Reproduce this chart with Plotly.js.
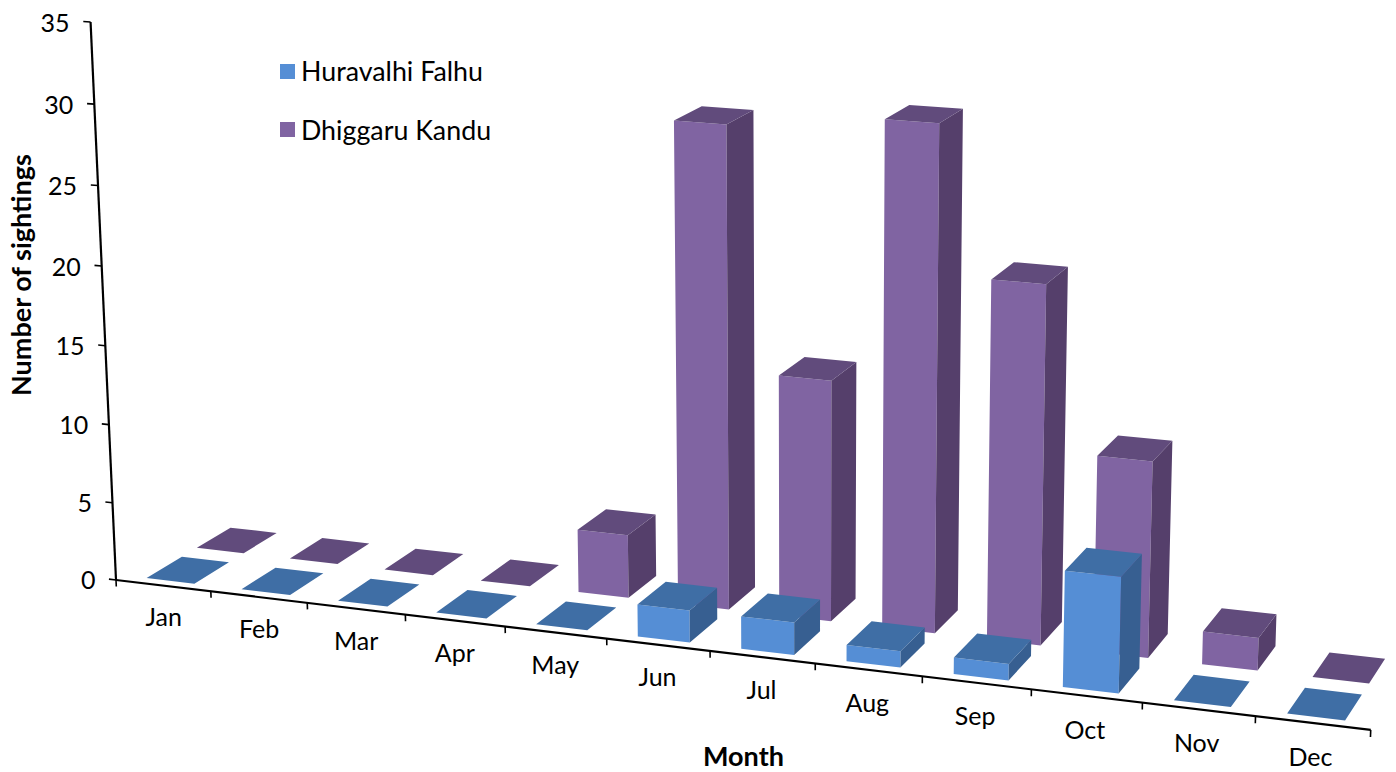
<!DOCTYPE html>
<html>
<head>
<meta charset="utf-8">
<script src="https://cdn.plot.ly/plotly-3.0.1.min.js"></script>
<style>html,body{margin:0;padding:0;background:#fff}#chart{width:1396px;height:772px}</style>
</head>
<body>
<div id="chart"></div>
<script>
// ---- data ----
const months = ['Jan','Feb','Mar','Apr','May','Jun','Jul','Aug','Sep','Oct','Nov','Dec'];
const huravalhiFalhu = [0,0,0,0,0,2,2,1,1,7,0,0];
const dhiggaruKandu  = [0,0,0,0,4,30,15,31,22,12,2,0];
const valueTicks = [0,5,10,15,20,25,30,35];

// ---- perspective camera: (month position, depth, value) -> plot coordinates ----
const origin = [116,580];
const vanishX = [-11077,-757], vanishD = [2260,-690], vanishV = [805,15700];
const cX = -0.0084, cD = 0.017, cV = -0.001017;
function project(X,D,V){
  const w = 1 + cX*X + cD*D + cV*V;
  return [0,1].map(k => (origin[k] + X*cX*vanishX[k] + D*cD*vanishD[k] + V*cV*vanishV[k]) / w);
}
function polygons(quads){
  const x=[],y=[];
  quads.forEach(q=>{ q.forEach(p=>{const r=project(p[0],p[1],p[2]);x.push(r[0]);y.push(r[1]);});
    const r=project(q[0][0],q[0][1],q[0][2]);x.push(r[0],null);y.push(r[1],null);});
  return {x,y};
}
function faceTrace(quads,color,name){
  const g=polygons(quads);
  return {type:'scatter',mode:'lines',x:g.x,y:g.y,fill:'toself',fillcolor:color,
          line:{width:0,color:color},hoverinfo:'name',name:name,showlegend:false,cliponaxis:false};
}
function barTraces(values,d0,d1,colors,name){
  const front=[],top=[],side=[];
  values.forEach((v,i)=>{
    const a=i+0.241,b=i+0.746;
    front.push([[a,d0,0],[b,d0,0],[b,d0,v],[a,d0,v]]);
    side.push([[b,d0,0],[b,d1,0],[b,d1,v],[b,d0,v]]);
    top.push([[a,d0,v],[b,d0,v],[b,d1,v],[a,d1,v]]);
  });
  return [faceTrace(front,colors[0],name),faceTrace(side,colors[1],name),faceTrace(top,colors[2],name)];
}
function lineTrace(segs,width){
  const x=[],y=[];
  segs.forEach(s=>{s.forEach(p=>{const r=project(p[0],p[1],p[2]);x.push(r[0]);y.push(r[1]);});x.push(null);y.push(null);});
  return {type:'scatter',mode:'lines',x,y,line:{color:'#000',width},hoverinfo:'skip',showlegend:false,cliponaxis:false};
}
const fontFamily = 'Lato, Carlito, sans-serif';
function textTrace(pts,labels,pos,size){
  const r=pts.map(p=>project(p[0],p[1],p[2]));
  return {type:'scatter',mode:'text',x:r.map(p=>p[0]),y:r.map(p=>p[1]),text:labels,textposition:pos,
          textfont:{family:fontFamily,size:size,color:'#000'},hoverinfo:'skip',showlegend:false,cliponaxis:false};
}

const fontSize = 25;
const traces = [
  ...barTraces(dhiggaruKandu,1.655,2.655,['#8064A2','#553F6B','#614B7C'],'Dhiggaru Kandu'),
  ...barTraces(huravalhiFalhu,0.22,1.22,['#558ED5','#375F91','#3F6EA5'],'Huravalhi Falhu'),
  lineTrace([[[0,0,0],[12,0,0]],[[0,0,0],[0,0,35]]],2.2),
  lineTrace([
    ...valueTicks.map(v=>[[0,0,v],[-0.075,0,v]]),
    ...months.concat(['']).map((m,i)=>[[i,0,0],[i,0,-0.42]])
  ],1.6),
  textTrace(valueTicks.map(v=>[-0.22,0,v-0.33]),valueTicks.map(String),'middle left',fontSize),
  textTrace(months.map((m,i)=>[i+0.49,0,-2.22]),months,'middle center',fontSize),
  {type:'scatter',mode:'markers',x:[287.5,287.5],y:[71.5,129.5],
   marker:{symbol:'square',size:15,color:['#558ED5','#8064A2']},hoverinfo:'skip',showlegend:false,cliponaxis:false},
  {type:'scatter',mode:'text',x:[301,301],y:[74,133],text:['Huravalhi Falhu','Dhiggaru Kandu'],
   textposition:'middle right',textfont:{family:fontFamily,size:26.8,color:'#000'},hoverinfo:'skip',showlegend:false,cliponaxis:false}
];
const layout = {
  width:1396,height:772,margin:{l:0,r:0,t:0,b:0},paper_bgcolor:'#fff',plot_bgcolor:'#fff',showlegend:false,
  xaxis:{range:[0,1396],visible:false,fixedrange:true},
  yaxis:{range:[772,0],visible:false,fixedrange:true},
  annotations:[
    {text:'<b>Number of sightings</b>',xref:'x',yref:'y',x:20,y:275,showarrow:false,textangle:-90,
     font:{family:fontFamily,size:27,color:'#000'}},
    {text:'<b>Month</b>',xref:'x',yref:'y',x:743,y:755,showarrow:false,
     font:{family:fontFamily,size:27,color:'#000'}}
  ]
};
Plotly.newPlot('chart',traces,layout,{displayModeBar:false,staticPlot:true});
</script>
</body>
</html>
